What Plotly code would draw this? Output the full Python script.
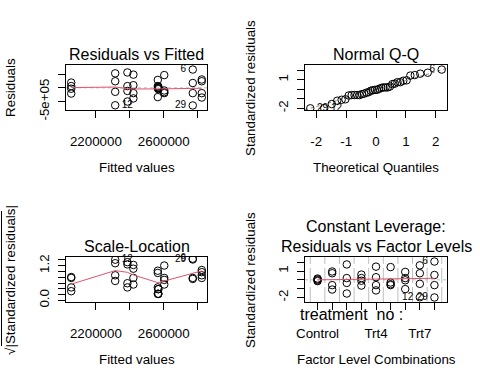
import numpy as np
import plotly.graph_objects as go
from statistics import NormalDist

W, H = 480, 384
FONT = "Liberation Sans, Arial, Helvetica, sans-serif"
RED = "#DF536B"
GRAY = "#BEBEBE"

# ---------------- data ----------------
levels = ["Control", "Trt1", "Trt2", "Trt3", "Trt4", "Trt5", "Trt6", "Trt7", "Trt8"]
fitted_by_level = [2568000, 2824000, 2386000, 2055000, 2421000, 2603000, 2565000, 2314000, 2771000]
std_resid_by_level = [
    [0.15, 0.05, -0.05, -0.15],
    [0.95, 0.75, -0.60, -1.10],
    [1.75, 0.20, -0.35, -1.55],
    [0.60, 0.20, -0.10, -0.65],
    [1.50, 0.30, -0.60, -1.20],
    [1.45, -0.30, -0.50, -0.60],
    [0.90, 0.20, -0.05, -1.05],
    [1.65, 0.75, -0.45, -1.98],
    [2.08, 0.55, -0.60, -2.00],
]
obs_id_by_level = [
    [1, 10, 19, 28],
    [2, 11, 20, 31],
    [4, 13, 22, 32],
    [5, 14, 23, 33],
    [7, 16, 25, 34],
    [8, 17, 26, 35],
    [9, 18, 27, 36],
    [3, 21, 30, 12],
    [6, 15, 24, 29],
]
resid_scale = 320000  # raw residual per standardized unit

# red smoother readings
smooth_fitted = [2055000, 2314000, 2386000, 2421000, 2566000, 2603000, 2771000, 2824000]
smooth_resid = [10000, 30000, -30000, -40000, -40000, -35000, -20000, -15000]
smooth_sqrt = [0.56, 1.03, 0.97, 0.88, 0.61, 0.67, 0.94, 1.02]
smooth_factor = [0.0, 0.02, 0.04, 0.06, 0.08, 0.10, 0.12, 0.15, 0.18]

# tick labels
fit_ticks = [2200000, 2400000, 2600000, 2800000]
fit_ticktext = ["2200000", "", "2600000", ""]
res_ticks = [-500000, 0, 500000]
res_ticktext = ["-5e+05", "", ""]
qq_xticks = [-2, -1, 0, 1, 2]
qq_xticktext = ["-2", "-1", "0", "1", "2"]
std_ticks = [-2, -1, 0, 1, 2]
std_ticktext = ["-2", "", "", "1", ""]
sl_ticks = [0.0, 0.2, 0.4, 0.6, 0.8, 1.0, 1.2, 1.4]
sl_ticktext = ["0.0", "", "", "", "", "", "1.2", ""]
fac_ticktext = ["Control", "", "", "", "Trt4", "", "", "Trt7", ""]

# ---------------- derived values ----------------
fitted = np.array([f for f, g in zip(fitted_by_level, std_resid_by_level) for _ in g], float)
std = np.array([v for g in std_resid_by_level for v in g], float)
ids = np.array([i for g in obs_id_by_level for i in g])
facpos = np.array([k for k, g in enumerate(std_resid_by_level) for _ in g], float)
resid = std * resid_scale
sqrt_abs = np.sqrt(np.abs(std))
n = len(std)
order = np.argsort(std)
theo = np.array([NormalDist().inv_cdf((i + 0.5) / n) for i in range(n)])
qq_sample = std[order]
top3 = np.argsort(-np.abs(std))[:3]


def axr(lo, hi):
    d = hi - lo
    return [lo - 0.04 * d, hi + 0.04 * d]


def ext(lo, hi, f=0.08):
    d = hi - lo
    return lo - f * d, hi + f * d


xr_fit = axr(fitted.min(), fitted.max())
yr_res = axr(*ext(resid.min(), resid.max()))
xr_qq = axr(theo.min(), theo.max())
_d = qq_sample.max() - qq_sample.min()
yr_qq = axr(qq_sample.min(), qq_sample.max() + 0.075 * _d)
yr_sl = axr(0, sqrt_abs.max())
xr_fac = axr(-0.5, len(levels) - 0.5)
yr_fac = axr(*ext(std.min(), std.max()))

# qq line through quartiles
q1, q3 = np.percentile(std, [25, 75])
z1, z3 = NormalDist().inv_cdf(0.25), NormalDist().inv_cdf(0.75)
slope = (q3 - q1) / (z3 - z1)
icpt = q1 - slope * z1


def pos_lr(xv, rng):
    return "middle left" if xv > (rng[0] + rng[1]) / 2 else "middle right"


def an(k, axis):
    return axis if k == 1 else f"{axis}{k}"


fig = go.Figure()
mk = dict(symbol="circle-open", size=7.5, color="black", line=dict(width=1, color="black"))


def add_panel(k, x, y, sx, sy, lab_x, lab_y, lab_ids, lab_rng):
    xa, ya = an(k, "x"), an(k, "y")
    fig.add_trace(go.Scatter(x=x, y=y, mode="markers", marker=mk, xaxis=xa, yaxis=ya,
                             showlegend=False, hoverinfo="skip"))
    if sx is not None:
        fig.add_trace(go.Scatter(x=sx, y=sy, mode="lines", line=dict(color=RED, width=1),
                                 xaxis=xa, yaxis=ya, showlegend=False, hoverinfo="skip"))
    fig.add_trace(go.Scatter(x=lab_x, y=lab_y, mode="markers+text", text=[str(i) for i in lab_ids],
                             marker=dict(size=9, opacity=0),
                             textposition=[pos_lr(v, lab_rng) for v in lab_x],
                             textfont=dict(size=10, family=FONT, color="black"),
                             cliponaxis=False,
                             xaxis=xa, yaxis=ya, showlegend=False, hoverinfo="skip"))


# panel 1
add_panel(1, fitted, resid, smooth_fitted, smooth_resid,
          fitted[top3], resid[top3], ids[top3], xr_fit)
# panel 2: qq line first
fig.add_trace(go.Scatter(x=xr_qq, y=[icpt + slope * v for v in xr_qq], mode="lines",
                         line=dict(color="gray", width=1, dash="dot"),
                         xaxis="x2", yaxis="y2", showlegend=False, hoverinfo="skip"))
inv = np.argsort(order)
add_panel(2, theo, qq_sample, None, None,
          theo[inv[top3]], std[top3], ids[top3], xr_qq)
# panel 3
add_panel(3, fitted, sqrt_abs, smooth_fitted, smooth_sqrt,
          fitted[top3], sqrt_abs[top3], ids[top3], xr_fit)
# panel 4
add_panel(4, facpos, std, list(range(len(levels))), smooth_factor,
          facpos[top3], std[top3], ids[top3], xr_fac)


def px(x):
    return x / W


def py(y):
    return 1 - y / H


boxes = {1: (66, 207, 65, 110), 2: (305, 447, 65, 110), 3: (66, 207, 257, 302), 4: (305, 447, 257, 302)}
tf = dict(size=13.33, family=FONT, color="black")
common = dict(ticks="outside", ticklen=7, tickwidth=1, tickcolor="black", showline=True,
              linecolor="black", linewidth=1, mirror=True, showgrid=False, zeroline=False,
              tickfont=tf, tickmode="array", automargin=False)
xinfo = {1: (xr_fit, fit_ticks, fit_ticktext), 2: (xr_qq, qq_xticks, qq_xticktext),
         3: (xr_fit, fit_ticks, fit_ticktext), 4: (xr_fac, list(range(len(levels))), fac_ticktext)}
yinfo = {1: (yr_res, res_ticks, res_ticktext), 2: (yr_qq, std_ticks, std_ticktext),
         3: (yr_sl, sl_ticks, sl_ticktext), 4: (yr_fac, std_ticks, std_ticktext)}
lay = {}
for k, (x0, x1, y0, y1) in boxes.items():
    xr, xt, xtt = xinfo[k]
    yr, yt, ytt = yinfo[k]
    xkey = "xaxis" if k == 1 else f"xaxis{k}"
    ykey = "yaxis" if k == 1 else f"yaxis{k}"
    lay[xkey] = dict(domain=[px(x0), px(x1)], anchor=an(k, "y"), range=xr, tickvals=xt,
                     ticktext=xtt, ticklabelstandoff=12, **common)
    lay[ykey] = dict(domain=[py(y1), py(y0)], anchor=an(k, "x"), range=yr, tickvals=yt,
                     ticktext=ytt, tickangle=-90, ticklabelstandoff=4, **common)

shapes = []
# dotted zero lines
for k in (1, 4):
    shapes.append(dict(type="line", xref=f"{an(k, 'x')} domain", yref=an(k, "y"), x0=0, x1=1,
                       y0=0, y1=0, line=dict(color=GRAY, width=1, dash="dot"), layer="below"))
# factor level separators
for v in [i - 0.5 for i in range(len(levels) + 1)]:
    shapes.append(dict(type="line", xref="x4", yref="y4 domain", x0=v, x1=v, y0=0, y1=1,
                       line=dict(color=GRAY, width=1, dash="15px,4px"), layer="below"))
# overline of the radical in panel 3 y label
shapes.append(dict(type="line", xref="paper", yref="paper", x0=px(1.5), x1=px(1.5),
                   y0=py(346), y1=py(211), line=dict(color="black", width=1)))


def ann(text, x, y, size, angle=0, xanchor="center"):
    return dict(text=text, x=px(x), y=py(y), xref="paper", yref="paper", showarrow=False,
                font=dict(size=size, family=FONT, color="black"), textangle=angle,
                xanchor=xanchor, yanchor="middle")


anns = [
    ann("Residuals vs Fitted", 136.5, 54, 16),
    ann("Normal Q-Q", 376, 54, 16),
    ann("Scale-Location", 136.5, 246, 16),
    ann("Constant Leverage:", 376, 226, 16),
    ann("Residuals vs Factor Levels", 376, 246, 16),
    ann("Fitted values", 136.5, 167.4, 13.33),
    ann("Theoretical Quantiles", 376, 167.4, 13.33),
    ann("Fitted values", 136.5, 359.4, 13.33),
    ann("Factor Level Combinations", 376, 359.4, 13.33),
    ann("Residuals", 10.4, 87.5, 13.33, -90),
    ann("Standardized residuals", 250.4, 87.5, 13.33, -90),
    ann("√|Standardized residuals|", 10.4, 279.5, 13.33, -90),
    ann("Standardized residuals", 250.4, 279.5, 13.33, -90),
    ann("treatment\u00a0\u00a0no :", 298, 314.7, 16, 0, "left"),
]

fig.update_layout(template="none", width=W, height=H,
                  margin=dict(l=0, r=0, t=0, b=0, pad=0, autoexpand=False),
                  paper_bgcolor="white", plot_bgcolor="white", showlegend=False,
                  shapes=shapes, annotations=anns, **lay)
fig.write_html("out.html", config={"displayModeBar": False, "staticPlot": True},
               post_script="document.body.style.margin='0px';document.body.style.padding='0px';")
